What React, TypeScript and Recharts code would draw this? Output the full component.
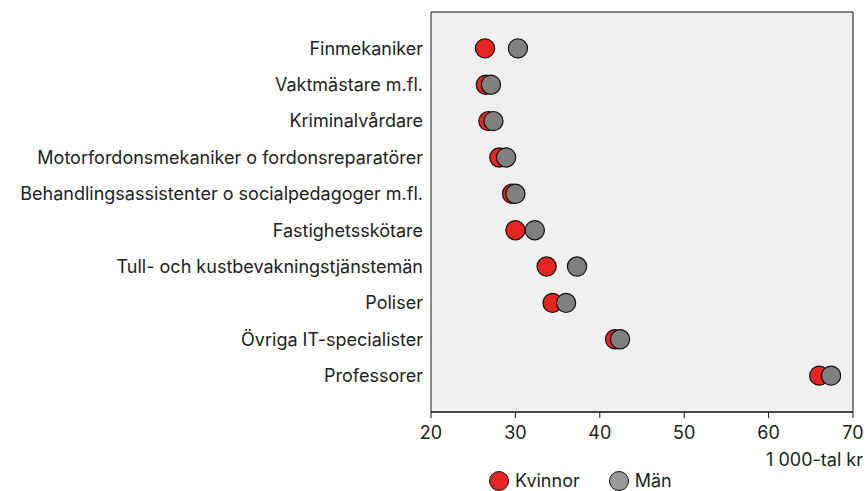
import React from 'react';
import {
  ScatterChart,
  Scatter,
  XAxis,
  YAxis,
  CartesianGrid,
  ReferenceArea,
} from 'recharts';

const occupations = [
  'Finmekaniker',
  'Vaktmästare m.fl.',
  'Kriminalvårdare',
  'Motorfordonsmekaniker o fordonsreparatörer',
  'Behandlingsassistenter o socialpedagoger  m.fl.',
  'Fastighetsskötare',
  'Tull- och kustbevakningstjänstemän',
  'Poliser',
  'Övriga IT-specialister',
  'Professorer',
];
const women = [26.4, 26.5, 26.8, 28.1, 29.6, 30.0, 33.7, 34.4, 41.8, 66.0];
const men = [30.3, 27.1, 27.4, 28.9, 30.0, 32.3, 37.3, 36.0, 42.4, 67.4];
const xTicks = [20, 30, 40, 50, 60, 70];

const womenData = occupations.map((_, i) => ({ x: women[i], y: i + 1 }));
const menData = occupations.map((_, i) => ({ x: men[i], y: i + 1 }));

const FONT = 'Inter, "Noto Sans", sans-serif';
const RED = '#e42522';
const GRAY = '#808080';

const dot = (fill: string) => (props: any) => (
  <circle cx={props.cx} cy={props.cy} r={9.6} fill={fill} stroke="#111" strokeWidth={1.2} />
);

export default function App() {
  return (
    <div
      style={{
        position: 'fixed',
        left: 0,
        top: 0,
        width: 867,
        height: 491,
        overflow: 'hidden',
        background: '#fff',
        fontFamily: FONT,
        color: '#222',
      }}
    >
      <ScatterChart width={867} height={491} margin={{ top: 12, right: 14, bottom: 0, left: 0 }}>
        <CartesianGrid horizontal={false} vertical={false} fill="#f0f0f0" stroke="none" />
        <XAxis
          type="number"
          dataKey="x"
          domain={[20, 70]}
          ticks={xTicks}
          height={79}
          tickSize={6}
          tickMargin={8}
          tickLine={{ stroke: '#111' }}
          axisLine={{ stroke: '#111' }}
          tick={{ fontSize: 18, fill: '#222', fontFamily: FONT }}
          interval={0}
        />
        <YAxis
          type="number"
          dataKey="y"
          domain={[0, 11]}
          reversed
          ticks={[1, 2, 3, 4, 5, 6, 7, 8, 9, 10]}
          tickFormatter={(v) => occupations[v - 1] ?? ''}
          width={431}
          tickSize={0}
          tickMargin={8}
          axisLine={false}
          tick={{ fontSize: 18, fill: '#222', fontFamily: FONT, style: { whiteSpace: 'pre' } }}
          interval={0}
        />
        <ReferenceArea x1={20} x2={70} y1={0} y2={11} fill="none" stroke="#111" strokeWidth={1} />
        <Scatter name="Kvinnor" data={womenData} fill={RED} shape={dot(RED)} isAnimationActive={false} />
        <Scatter name="Män" data={menData} fill={GRAY} shape={dot(GRAY)} isAnimationActive={false} />
      </ScatterChart>
      <div style={{ position: 'absolute', right: 4, top: 449, fontSize: 18, lineHeight: '22px' }}>1 000-tal kr</div>
      <div style={{ position: 'absolute', left: 489, top: 470, fontSize: 18, lineHeight: '22px', display: 'flex', alignItems: 'center' }}>
        <span style={{ width: 20, height: 20, borderRadius: '50%', background: RED, border: '1.2px solid #111', boxSizing: 'border-box', marginRight: 6 }} />
        <span>Kvinnor</span>
        <span style={{ width: 20, height: 20, borderRadius: '50%', background: '#999', border: '1.2px solid #111', boxSizing: 'border-box', marginLeft: 29, marginRight: 6 }} />
        <span>Män</span>
      </div>
    </div>
  );
}
